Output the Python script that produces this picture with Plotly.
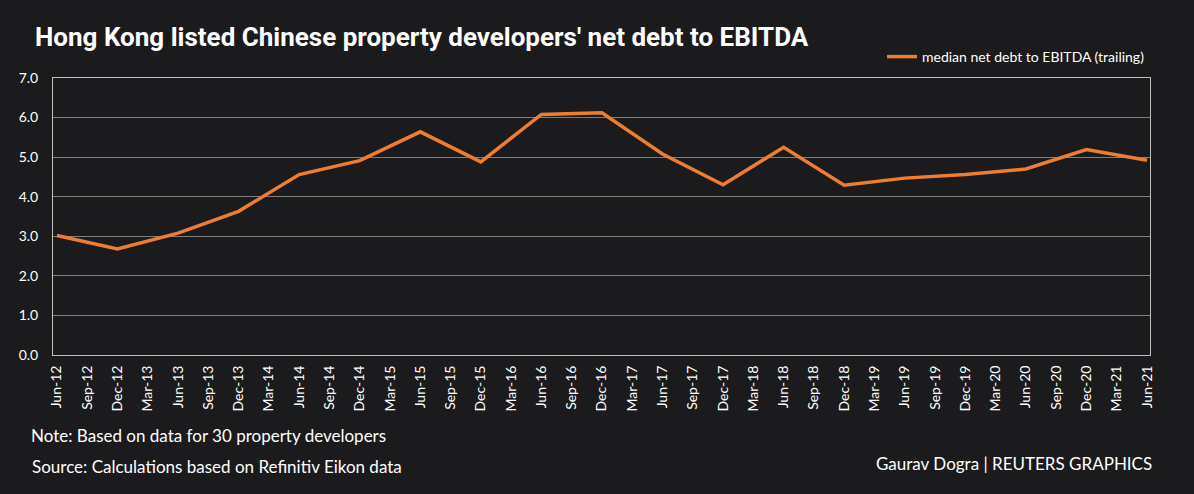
import plotly.graph_objects as go

quarters = ["Jun-12","Sep-12","Dec-12","Mar-13","Jun-13","Sep-13","Dec-13","Mar-14","Jun-14","Sep-14","Dec-14",
            "Mar-15","Jun-15","Sep-15","Dec-15","Mar-16","Jun-16","Sep-16","Dec-16","Mar-17","Jun-17","Sep-17",
            "Dec-17","Mar-18","Jun-18","Sep-18","Dec-18","Mar-19","Jun-19","Sep-19","Dec-19","Mar-20","Jun-20",
            "Sep-20","Dec-20","Mar-21","Jun-21"]
# semi-annual reported values (Jun / Dec); None for quarters without data
values = [3.02, None, 2.68, None, 3.08, None, 3.63, None, 4.56, None, 4.91,
          None, 5.64, None, 4.88, None, 6.08, None, 6.12, None, 5.08, None,
          4.30, None, 5.25, None, 4.29, None, 4.47, None, 4.56, None, 4.70,
          None, 5.19, None, 4.92]
y_ticks = [0, 1, 2, 3, 4, 5, 6, 7]

bg = "#1b1a1c"
grid = "#7f7f7f"

fig = go.Figure()
fig.add_trace(go.Scatter(
    x=list(range(len(quarters))), y=values, mode="lines", connectgaps=True,
    line=dict(color="#ed7d31", width=3.5),
    name="median net debt to EBITDA (trailing)",
))

fig.update_layout(
    width=1194, height=494,
    paper_bgcolor=bg, plot_bgcolor=bg,
    margin=dict(l=53, r=44, t=78, b=139),
    font=dict(family="Lato", color="white", size=12),
    showlegend=True,
    legend=dict(x=1.0, xanchor="right", y=1+(78-57)/277, yanchor="middle",
                bgcolor="rgba(0,0,0,0)", font=dict(size=14, color="white"),
                itemwidth=30),
    title=dict(text="<b>Hong Kong listed Chinese property developers' net debt to EBITDA</b>",
               x=35/1194, xanchor="left", y=1-37/494, yanchor="middle",
               font=dict(family="Roboto", size=26, color="white")),
)

fig.update_xaxes(
    tickmode="array", tickvals=list(range(len(quarters))), ticktext=quarters,
    tickangle=-90, range=[-0.13, 36.1], showgrid=False,
    showline=True, linecolor="#bfbfbf", linewidth=1, mirror=True,
    ticks="", tickfont=dict(size=14, color="white"), zeroline=False,
    ticklabelstandoff=4,
)
fig.update_yaxes(
    range=[0, 7], tickvals=y_ticks, ticktext=[f"{v:.1f}" for v in y_ticks],
    showgrid=True, gridcolor=grid, gridwidth=1,
    showline=True, linecolor="#bfbfbf", linewidth=1, mirror=True,
    ticks="", tickfont=dict(size=14, color="white"), zeroline=False,
    ticklabelstandoff=11,
)

fig.add_annotation(text="Note: Based on data for 30 property developers", xref="paper", yref="paper",
                   x=-24/1097, y=-(435-355)/277, xanchor="left", yanchor="middle", showarrow=False,
                   font=dict(family="Lato", size=17, color="white"))
fig.add_annotation(text="Source: Calculations based on Refinitiv Eikon data", xref="paper", yref="paper",
                   x=-23/1097, y=-(466-355)/277, xanchor="left", yanchor="middle", showarrow=False,
                   font=dict(family="Lato", size=17, color="white"))
fig.add_annotation(text="Gaurav Dogra | REUTERS GRAPHICS", xref="paper", yref="paper",
                   x=1+4/1097, y=-(463-355)/277, xanchor="right", yanchor="middle", showarrow=False,
                   font=dict(family="Lato", size=17, color="white"))

fig.write_html("out.html")
